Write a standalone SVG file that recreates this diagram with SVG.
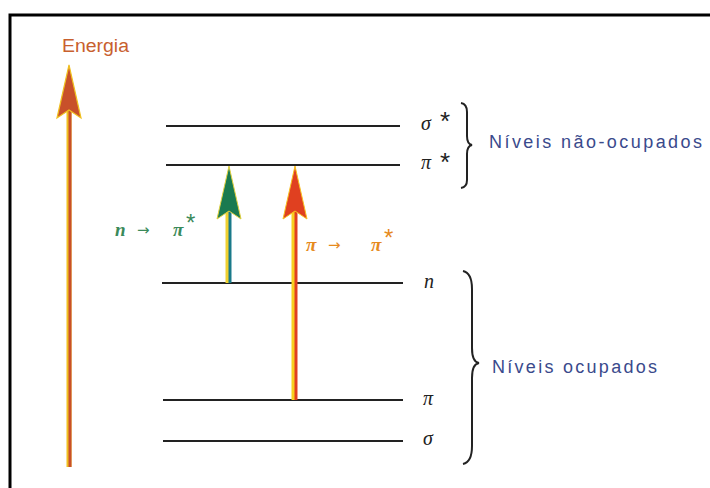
<svg xmlns="http://www.w3.org/2000/svg" width="710" height="488" viewBox="0 0 710 488">
<style>
.lvl{stroke:#222;stroke-width:2.2;fill:none}
.lab{font-family:"Liberation Serif",serif;font-style:italic;font-size:20px;fill:#222}
.star{font-family:"Liberation Sans",sans-serif;font-size:26px;fill:#222}
.blue{font-family:"Liberation Sans",Arial,sans-serif;font-size:18px;fill:#3a4a8c}
.brace{stroke:#222;stroke-width:2;fill:none}
.tg{font-family:"Liberation Serif",serif;font-style:italic;font-weight:bold;font-size:19px;fill:#3a8a5a}
.to{font-family:"Liberation Serif",serif;font-style:italic;font-weight:bold;font-size:19px;fill:#e68a1e}
.arr{font-family:"DejaVu Sans",sans-serif;font-size:15px}
</style>
<rect width="710" height="488" fill="#fff"/>
<g id="frame"><path d="M10 488 V15 H710" fill="none" stroke="#000" stroke-width="3"/></g>
<g id="energia">
<text x="62" y="52" font-family="Liberation Sans,Arial,sans-serif" font-size="18" fill="#c8602e" textLength="67" lengthAdjust="spacingAndGlyphs">Energia</text>
<line x1="69" y1="467" x2="69" y2="110" stroke="#f0c020" stroke-width="5"/>
<line x1="70" y1="467" x2="70" y2="110" stroke="#c8502a" stroke-width="3"/>
<path d="M69 65 L81 118 L69 110 L57 118 Z" fill="#c8502a" stroke="#f0c020" stroke-width="1.2"/>
</g>
<g id="levels">
<line class="lvl" x1="166" y1="126" x2="400" y2="126"/>
<line class="lvl" x1="166" y1="165" x2="400" y2="165"/>
<line class="lvl" x1="162" y1="283" x2="403" y2="283"/>
<line class="lvl" x1="163" y1="400" x2="403" y2="400"/>
<line class="lvl" x1="163" y1="441" x2="403" y2="441"/>
</g>
<g id="level-labels">
<text class="lab" x="421" y="130">σ</text><text class="star" x="440" y="130">*</text>
<text class="lab" x="421" y="169">π</text><text class="star" x="440" y="171">*</text>
<text class="lab" x="424" y="288">n</text>
<text class="lab" x="423" y="405">π</text>
<text class="lab" x="423" y="445">σ</text>
</g>
<g id="connectors">
<g id="n-pi">
<line x1="228" y1="283" x2="228" y2="210" stroke="#f0d030" stroke-width="5"/>
<line x1="230" y1="283" x2="230" y2="210" stroke="#1a7a8a" stroke-width="3"/>
<path d="M229 166 L241 219 L229 211 L217 219 Z" fill="#1a7a50" stroke="#e0d040" stroke-width="1"/>
</g>
<g id="pi-pi">
<line x1="294" y1="400" x2="294" y2="210" stroke="#f8d020" stroke-width="5"/>
<line x1="296" y1="400" x2="296" y2="210" stroke="#e04020" stroke-width="3"/>
<path d="M295 166 L307 219 L295 211 L283 219 Z" fill="#e04020" stroke="#f8c020" stroke-width="1"/>
</g>
</g>
<g id="transition-labels">
<text class="tg" x="115" y="236">n</text>
<text class="arr" x="137" y="235" fill="#3a8a5a">→</text>
<text class="tg" x="173" y="236">π</text>
<text x="186" y="231" font-family="Liberation Sans,sans-serif" font-size="24" fill="#3a8a5a">*</text>
<text class="to" x="306" y="251">π</text>
<text class="arr" x="328" y="250" fill="#e68a1e">→</text>
<text class="to" x="371" y="251">π</text>
<text x="384" y="246" font-family="Liberation Sans,sans-serif" font-size="24" fill="#e68a1e">*</text>
</g>
<g id="unoccupied">
<path class="brace" d="M461 103 Q467 104 467 112 L467 136 Q467 144 472 145 Q467 146 467 154 L467 180 Q467 187 461 188"/>
<text class="blue" x="489" y="148" textLength="213" lengthAdjust="spacing">Níveis não-ocupados</text>
</g>
<g id="occupied">
<path class="brace" d="M463 271 Q472 273 472 289 L472 348 Q472 362 479 363 Q472 364 472 378 L472 446 Q472 462 463 464"/>
<text class="blue" x="492" y="373" textLength="165" lengthAdjust="spacing">Níveis ocupados</text>
</g>
</svg>
